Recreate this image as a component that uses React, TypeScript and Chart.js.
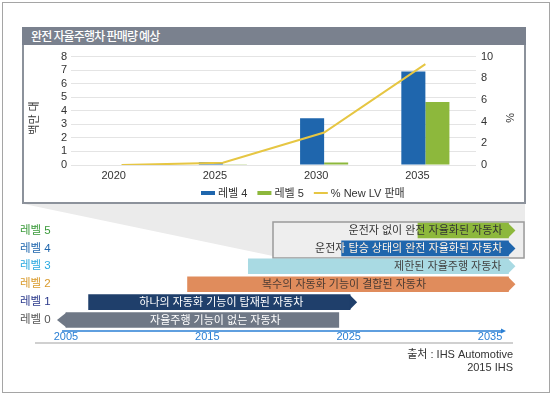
import React, { useEffect, useRef } from 'react';
import { Chart, registerables } from 'chart.js';

Chart.register(...registerables);

// ---------- upper chart data ----------
const years = ['2020', '2025', '2030', '2035'];
const level4Sales = [0.03, 0.2, 3.45, 6.9];
const level5Sales = [0.01, 0.05, 0.18, 4.65];
const newLvShare = [0, 0.2, 3.0, 9.3];
const legendLabels = ['레벨 4', '레벨 5', '% New LV 판매'];
const chartTitle = '완전 자율주행차 판매량 예상';
const leftAxisTitle = '백만 대';
const rightAxisTitle = '%';

// ---------- timeline data ----------
const levels = ['레벨 5', '레벨 4', '레벨 3', '레벨 2', '레벨 1', '레벨 0'];
const levelStart = [2029.9, 2024.5, 2017.9, 2013.6, 2006.6, 2005.0];
const levelEnd = [2036.3, 2036.3, 2036.3, 2036.3, 2025.1, 2024.3];
const levelText = [
  '운전자 없이 완전 자율화된 자동차',
  '운전자 탑승 상태의 완전 자율화된 자동차',
  '제한된 자율주행 자동차',
  '복수의 자동화 기능이 결합된 자동차',
  '하나의 자동화 기능이 탑재된 자동차',
  '자율주행 기능이 없는 자동차',
];
const timelineTicks = [2005, 2015, 2025, 2035];
const timelineMin = 2004.72;
const timelineMax = 2036.34;
const sourceLines = ['출처 : IHS Automotive', '2015 IHS'];

const FONT = '"Liberation Sans", "Noto Sans CJK KR", sans-serif';

const BLUE = '#1f66ad';
const GREEN = '#8db83c';
const YELLOW = '#e6c643';

const barColors = ['#8db83c', '#1f66ad', '#a9dae3', '#e08c5c', '#1f3f6b', '#6f7886'];
const labelColors = ['#3a9a3a', '#1f66ad', '#29a9e0', '#d99a2b', '#2b3a8c', '#555555'];
const textStyles = [
  { align: 'right', dx: -6, color: '#333333' },
  { align: 'right', dx: -6, color: '#333333', inner: '#ffffff' },
  { align: 'right', dx: -7, color: '#444444' },
  { align: 'center', dx: -4, color: '#4b3b33' },
  { align: 'center', dx: 2, color: '#ffffff' },
  { align: 'center', dx: 13, color: '#ffffff' },
];
const arrowDir = ['right', 'right', 'right', 'right', 'right', 'left'];

const TOP_B = 204;

const extrasA = {
  id: 'extrasA',
  afterDraw(chart: any) {
    const ctx = chart.ctx;
    ctx.save();
    ctx.fillStyle = '#333';
    ctx.textAlign = 'center';
    ctx.textBaseline = 'middle';
    ctx.font = `11px ${FONT}`;
    ctx.save();
    ctx.translate(11, 73);
    ctx.rotate(-Math.PI / 2);
    ctx.fillText(leftAxisTitle, 0, 0);
    ctx.restore();
    ctx.save();
    ctx.translate(485, 73);
    ctx.rotate(Math.PI / 2);
    ctx.fillText(rightAxisTitle, 0, 0);
    ctx.restore();

    // legend
    const y = 148;
    let x = 177;
    const kinds = ['bar', 'bar', 'line'];
    const cols = [BLUE, GREEN, YELLOW];
    ctx.textAlign = 'left';
    legendLabels.forEach((lab, i) => {
      ctx.fillStyle = cols[i];
      if (kinds[i] === 'bar') ctx.fillRect(x, y - 2, 14, 4);
      else ctx.fillRect(x, y - 1, 14, 2);
      x += 17;
      ctx.fillStyle = '#333';
      ctx.fillText(lab, x, y + 0.5);
      x += ctx.measureText(lab).width + 10;
    });
    ctx.restore();
  },
};

const timelineDecor = {
  id: 'timelineDecor',
  beforeDatasetsDraw(chart: any) {
    const ctx = chart.ctx;
    const py = (v: number) => v - TOP_B;
    ctx.save();
    ctx.fillStyle = '#ebebeb';
    ctx.beginPath();
    ctx.moveTo(24, py(204));
    ctx.lineTo(525, py(204));
    ctx.lineTo(525, py(258));
    ctx.lineTo(273, py(256));
    ctx.closePath();
    ctx.fill();
    ctx.fillStyle = '#eeeeee';
    ctx.fillRect(273, py(222), 251, 36);
    ctx.strokeStyle = '#9b9b9b';
    ctx.lineWidth = 1.5;
    ctx.strokeRect(273, py(222), 251, 36);
    ctx.restore();
  },
  afterDatasetsDraw(chart: any) {
    const ctx = chart.ctx;
    const meta = chart.getDatasetMeta(0);
    ctx.save();
    meta.data.forEach((el: any, i: number) => {
      const { x, y, base, height } = el.getProps(['x', 'y', 'base', 'height'], true);
      const h = height;
      ctx.fillStyle = barColors[i];
      ctx.beginPath();
      if (arrowDir[i] === 'right') {
        ctx.moveTo(x - 0.5, y - h / 2);
        ctx.lineTo(x + 7, y);
        ctx.lineTo(x - 0.5, y + h / 2);
      } else {
        ctx.moveTo(base + 0.5, y - h / 2);
        ctx.lineTo(base - 9, y);
        ctx.lineTo(base + 0.5, y + h / 2);
      }
      ctx.closePath();
      ctx.fill();

      const st = textStyles[i];
      ctx.font = `11px ${FONT}`;
      ctx.textBaseline = 'middle';
      let tx: number;
      if (st.align === 'right') {
        ctx.textAlign = 'right';
        tx = x + st.dx;
      } else {
        ctx.textAlign = 'center';
        tx = (x + base) / 2 + st.dx;
      }
      ctx.fillStyle = st.color;
      ctx.fillText(levelText[i], tx, y + 0.5);
      if (st.inner) {
        ctx.save();
        ctx.beginPath();
        ctx.rect(base, y - h / 2, x + 8 - base, h);
        ctx.clip();
        ctx.fillStyle = st.inner;
        ctx.fillText(levelText[i], tx, y + 0.5);
        ctx.restore();
      }
    });
    ctx.restore();
  },
  afterDraw(chart: any) {
    const ctx = chart.ctx;
    const py = (v: number) => v - TOP_B;
    const left = chart.chartArea.left;
    ctx.save();
    // timeline axis
    ctx.strokeStyle = '#2a7fd4';
    ctx.lineWidth = 1.5;
    ctx.beginPath();
    ctx.moveTo(left, py(331));
    ctx.lineTo(502, py(331));
    ctx.stroke();
    ctx.fillStyle = '#2a7fd4';
    ctx.beginPath();
    ctx.moveTo(501, py(328.5));
    ctx.lineTo(506, py(331));
    ctx.lineTo(501, py(333.5));
    ctx.closePath();
    ctx.fill();
    // shadow line
    ctx.strokeStyle = '#d0d0d0';
    ctx.lineWidth = 2;
    ctx.beginPath();
    ctx.moveTo(35, py(343));
    ctx.lineTo(513, py(343));
    ctx.stroke();
    // source
    ctx.fillStyle = '#333';
    ctx.font = `11px ${FONT}`;
    ctx.textAlign = 'right';
    ctx.textBaseline = 'middle';
    ctx.fillText(sourceLines[0], 513, py(355));
    ctx.fillText(sourceLines[1], 513, py(368));
    ctx.restore();
  },
};

export default function App() {
  const aRef = useRef<HTMLCanvasElement>(null);
  const bRef = useRef<HTMLCanvasElement>(null);

  useEffect(() => {
    const chartA = new Chart(aRef.current as HTMLCanvasElement, {
      type: 'bar',
      data: {
        labels: years,
        datasets: [
          {
            type: 'line',
            label: legendLabels[2],
            data: newLvShare,
            yAxisID: 'y1',
            borderColor: YELLOW,
            backgroundColor: YELLOW,
            borderWidth: 2,
            pointRadius: 0,
            tension: 0,
            order: 0,
          } as any,
          {
            label: legendLabels[0],
            data: level4Sales,
            yAxisID: 'y',
            backgroundColor: BLUE,
            categoryPercentage: 0.475,
            barPercentage: 1,
            order: 1,
          },
          {
            label: legendLabels[1],
            data: level5Sales,
            yAxisID: 'y',
            backgroundColor: GREEN,
            categoryPercentage: 0.475,
            barPercentage: 1,
            order: 1,
          },
        ],
      },
      options: {
        responsive: false,
        animation: false,
        devicePixelRatio: 1,
        layout: { padding: { top: 9, left: 0, right: 0, bottom: 0 } },
        plugins: { legend: { display: false }, tooltip: { enabled: false } },
        scales: {
          x: {
            grid: { display: false, drawTicks: false },
            border: { display: false },
            ticks: { font: { family: FONT, size: 11 }, color: '#333', padding: 4, labelOffset: -8 },
            afterFit: (s: any) => { s.height = 37; },
          },
          y: {
            position: 'left',
            min: 0,
            max: 8,
            ticks: { stepSize: 1, autoSkip: false, font: { family: FONT, size: 11 }, color: '#333', padding: 4 },
            grid: { color: '#e4e4e4', drawTicks: false },
            border: { display: false },
            afterFit: (s: any) => { s.width = 47; },
          },
          y1: {
            position: 'right',
            min: 0,
            max: 10,
            ticks: { stepSize: 2, autoSkip: false, font: { family: FONT, size: 11 }, color: '#333', padding: 5 },
            grid: { display: false, drawTicks: false },
            border: { display: false },
            afterFit: (s: any) => { s.width = 48; },
          },
        },
      } as any,
      plugins: [extrasA],
    });

    const chartB = new Chart(bRef.current as HTMLCanvasElement, {
      type: 'bar',
      data: {
        labels: levels,
        datasets: [
          {
            data: levels.map((_, i) => [levelStart[i], levelEnd[i]]),
            backgroundColor: barColors,
            barThickness: 15,
            clip: false,
          } as any,
        ],
      },
      options: {
        indexAxis: 'y',
        responsive: false,
        animation: false,
        devicePixelRatio: 1,
        layout: { padding: { left: 20, top: 17.5, right: 552 - 509, bottom: 0 } },
        plugins: { legend: { display: false }, tooltip: { enabled: false } },
        scales: {
          x: {
            type: 'linear',
            min: timelineMin,
            max: timelineMax,
            afterBuildTicks: (s: any) => { s.ticks = timelineTicks.map((v) => ({ value: v })); },
            ticks: {
              color: '#2a7fd4',
              font: { family: FONT, size: 11 },
              padding: 1,
              callback: (v: any) => String(v),
            },
            grid: { display: false, drawTicks: false },
            border: { display: false },
            afterFit: (s: any) => { s.height = 64; },
          },
          y: {
            type: 'category',
            ticks: {
              crossAlign: 'far',
              color: (c: any) => labelColors[c.index],
              font: { family: FONT, size: 11.5 },
              padding: 0,
            },
            grid: { display: false, drawTicks: false },
            border: { display: false },
            afterFit: (s: any) => { s.width = 42; },
          },
        },
      } as any,
      plugins: [timelineDecor],
    });

    return () => {
      chartA.destroy();
      chartB.destroy();
    };
  }, []);

  return (
    <div style={{ position: 'fixed', left: 0, top: 0, width: 552, height: 398, background: '#fff', overflow: 'hidden' }}>
      <div style={{ position: 'absolute', left: 2, top: 2, width: 548, height: 391, border: '1px solid #a5a5a5', boxSizing: 'border-box' }} />
      <div style={{ position: 'absolute', left: 22, top: 27, width: 504, height: 177, border: '2px solid #8c929b', boxSizing: 'border-box' }} />
      <div
        style={{
          position: 'absolute', left: 22, top: 27, width: 504, height: 18, background: '#7a818e', color: '#fff',
          fontFamily: '"Noto Sans CJK KR", sans-serif', fontWeight: 500, fontSize: 12, lineHeight: '18px',
          paddingLeft: 9, boxSizing: 'border-box', letterSpacing: '-0.8px', whiteSpace: 'nowrap',
        }}
      >
        {chartTitle}
      </div>
      <canvas ref={aRef} width={500} height={157} style={{ position: 'absolute', left: 24, top: 45 }} />
      <canvas ref={bRef} width={552} height={189} style={{ position: 'absolute', left: 0, top: TOP_B }} />
    </div>
  );
}
